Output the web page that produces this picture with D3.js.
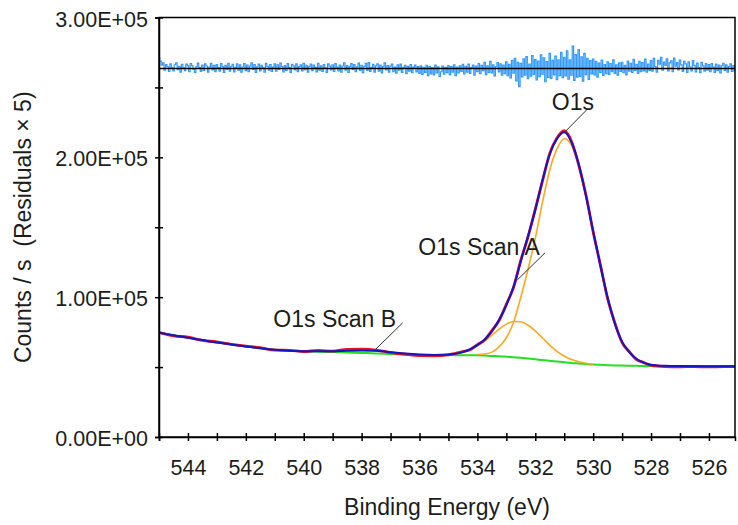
<!DOCTYPE html>
<meta charset="utf-8">
<html>
<head>
    <title>O1s fit</title>
    <script src="https://d3js.org/d3.v7.min.js"></script>
    <style>
        body { margin: 0; background: #fff; }
        svg { display: block; font-family: 'Liberation Sans', Arial, sans-serif; }
        .axis path, .axis line { stroke: #000; stroke-width: 1.5; }
        .axis text { font-size: 21.5px; fill: #1c1c1c; }
        .lbl { font-size: 23px; fill: #1c1c1c; white-space: pre; }
    </style>
</head>
<body>
<svg width="738" height="525"></svg>
<script>
    // spectrum grid (eV) and values (counts / s)
    const energy = [545, 544.5, 544, 543.5, 543, 542.5, 542, 541.5, 541, 540.5, 540, 539.5, 539, 538.5, 538, 537.5, 537, 536.5, 536, 535.5, 535,
        534.5, 534.25, 534, 533.75, 533.5, 533.25, 533, 532.75, 532.5, 532.25, 532, 531.75, 531.5, 531.25, 531, 530.75, 530.5, 530.25, 530,
        529.75, 529.5, 529.25, 529, 528.75, 528.5, 528.25, 528, 527.5, 527, 526.5, 526, 525.5, 525.1];

    const counts = [74900, 72400, 71400, 69100, 68000, 66200, 65000, 63900, 62100, 62000, 61100, 61900, 61400, 62700, 62800, 62200, 60400, 59200, 58200, 58100, 58800,
        61000, 62400, 66100, 69400, 76100, 83300, 94900, 107100, 126400, 143200, 162900, 183200, 202800, 213800, 219000, 211500, 194600, 173200, 146600,
        123100, 98900, 81600, 67500, 61000, 55400, 53300, 51300, 50400, 50200, 50400, 50100, 50300, 50300];

    const envelope = [74500, 72700, 71000, 69300, 67600, 66200, 64800, 63400, 62400, 61700, 61400, 61300, 61400, 61700, 61900, 61600, 60700, 59700, 59000, 58700, 59000,
        60700, 62800, 65700, 69800, 75500, 83800, 94300, 107600, 125800, 143800, 162300, 183800, 202200, 213300, 217900, 210900, 195200, 172600, 147200,
        122500, 99500, 81000, 68000, 60500, 55800, 53000, 51700, 50900, 50700, 50600, 50600, 50600, 50600];

    const background = [74500, 72700, 71000, 69300, 67600, 66200, 64800, 63400, 62400, 61700, 61300, 61000, 60700, 60400, 60100, 59800, 59400, 58900, 58700, 58600, 58600,
        58500, 58500, 58400, 58200, 58000, 57800, 57400, 57000, 56600, 56100, 55600, 55000, 54500, 54000, 53500, 53000, 52600, 52200, 51800,
        51600, 51400, 51200, 51100, 51000, 50900, 50800, 50800, 50700, 50700, 50600, 50600, 50600, 50600];

    // components (background included), each on its own energy span
    const o1sEnergy = [534, 533.75, 533.5, 533.25, 533, 532.75, 532.5, 532.25, 532, 531.75, 531.5, 531.25, 531, 530.75, 530.5, 530.25, 530,
        529.75, 529.5, 529.25, 529, 528.75, 528.5, 528.25, 528, 527.5];
    const o1sPeak = [59000, 59400, 60700, 64500, 71000, 82000, 100000, 120000, 142000, 168000, 191000, 206000, 213500, 208500, 194000, 172000, 147000,
        122500, 99500, 81000, 68000, 60500, 55800, 53000, 51700, 50900];

    const scanAEnergy = [534.5, 534.25, 534, 533.75, 533.5, 533.25, 533, 532.75, 532.5, 532.25, 532, 531.75, 531.5, 531.25, 531, 530.75, 530.5, 530.25, 530];
    const scanAPeak = [60600, 62500, 65100, 68600, 72800, 77100, 80700, 82600, 82400, 79900, 75900, 70800, 65700, 61300, 57900, 55400, 53800, 52800, 52000];

    const scanBEnergy = [540, 539.5, 539, 538.5, 538, 537.5, 537, 536.5, 536, 535.5];
    const scanBPeak = [61400, 61300, 61400, 61700, 61900, 61600, 60700, 59700, 59000, 58700];

    // residuals x5, plotted about an offset; one value per 0.05 eV from 545.0 down (one row per eV)
    const residOffset = 263600;
    const residStart = 545, residStep = 0.05;
    const residuals = [
        7800, 5200, 2400, 3900, -1300, 2800, 1100, -2200, 3300, 600, -1800, 2600, 3900, -900, 1500, -2700, 2900, 400, -1600, 3100,
        1800, -2400, 3500, 2000, -700, -2900, 1300, 3800, 600, -2100, 2400, -1400, 3200, 1700, -2600, 900, 3600, -1100, 2200, -2300,
        2700, 500, -2000, 3400, 1200, -2800, 2100, -600, 3700, -1900, 1400, 2900, -2500, 800, 3300, -1300, 2500, -2700, 1000, 3500,
        -1600, 2300, -2400, 1600, 3900, -800, 2700, -2900, 1100, 3000, -1700, 2200, 400, -2600, 3600, 1500, -1200, 2800, -2200, 900,
        3200, -1900, 2600, -700, 3800, 1300, -2500, 2000, -1500, 3400, 600, -2800, 2900, 1800, -1100, 3300, -2300, 1200, 2500, -1800,
        3600, -900, 2100, -2700, 1400, 3100, -1600, 2400, 700, -2500, 3700, -1300, 1900, -2100, 2800, 500, -2900, 3200, 1600, -1000,
        2600, -2200, 3500, 900, -1800, 2300, -2600, 1700, 4000, -1200, 2000, -2800, 1300, 3400, -700, 2700, -2400, 1100, 3800, -1500,
        2200, -3000, 1500, 3600, -1400, 4200, -2100, 800, 2900, -2600, 1800, 3300, -1900, 2400, -3200, 1200, 3900, -1100, 2000, -2700,
        1600, 3100, -2300, 1000, -3400, 2500, -1200, 3000, -2900, 600, 2200, -3800, 1400, -2000, 2700, -3100, 900, 2400, -2500, 1300,
        -3600, 1900, -4300, 800, -2800, 2100, -5100, 1200, -3900, 500, -4700, 2300, -3300, 1100, -5800, -2400, 1600, -4100, 700, -3000,
        2000, -4400, 1300, -2600, 2600, -5200, 900, -3200, 1800, -2100, 2900, -4000, 1500, -2700, 3100, -3500, 600, 2400, -4800, 1700,
        -2300, 3500, -3700, 2100, -1600, 4300, -4400, 1800, -2900, 5000, -3300, 2600, -5400, 1200, 4100, -2500, 3200, -4900, 2300, -3800,
        4600, -5200, 2900, -6800, 5800, -3400, 7100, -8900, 4400, -13000, 3600, -6100, 6900, -4800, 8400, -7400, 3100, -5600, 9200, -4300,
        6300, -8300, 5200, -5900, 9700, -4100, 7600, -9400, 4900, -6500, 10800, -7200, 5700, -4600, 8800, -8100, 6200, -5100, 11500, -6600,
        7900, -5300, 12600, -7700, 6100, -4900, 16000, -8600, 9900, -6200, 13400, -5800, 8300, -9100, 10800, -4400, 7200, -7900, 5600, -3900,
        6600, -4700, 5000, -6300, 3800, -2900, 5900, -5000, 2700, -3700, 4600, -4300, 3400, -2400, 6100, -3600, 2500, -4800, 3900, -2200,
        4400, -3100, 2200, -4600, 5300, -1900, 3700, -2800, 6400, -1400, 2900, -3500, 5000, -2300, 4100, -1700, 6600, -2600, 3000, -1500,
        5600, -2000, 7200, 1200, -2700, 5800, 3000, 7900, -1300, 4500, 2100, 6800, -1800, 3900, 5400, -2400, 7400, 1600, 4200, -1100,
        6000, 2500, -2100, 5100, 3300, -2800, 4700, 1000, -1700, 5500, 2200, -2500, 3800, 600, -3000, 4300, 1800, -2000, 3400, -1200,
        2800, -2300, 3500, 900, -2900, 3100, -1600, 2400, -3300, 1900, 3700, -1400, 2600, -2700, 1300, 3200, -2100, 2000, -1800, 2900];

    // axis ticks and labels
    const xDomain = [545, 525.1];
    const xTicks = [545, 544, 543, 542, 541, 540, 539, 538, 537, 536, 535, 534, 533, 532, 531, 530, 529, 528, 527, 526];
    const xTickLabels = {544: "544", 542: "542", 540: "540", 538: "538", 536: "536", 534: "534", 532: "532", 530: "530", 528: "528", 526: "526"};
    const yTicks = [0, 50000, 100000, 150000, 200000, 250000, 300000];
    const yTickLabels = {0: "0.00E+00", 100000: "1.00E+05", 200000: "2.00E+05", 300000: "3.00E+05"};

    // peak labels: text position and leader line, in data units
    const notes = [
        { text: "O1s", tx: 531.43, ty: 233900, x1: 530.17, y1: 235100, x2: 530.97, y2: 218300 },
        { text: "O1s Scan A", tx: 536.04, ty: 130200, x1: 531.66, y1: 131800, x2: 532.62, y2: 112300 },
        { text: "O1s Scan B", tx: 541.05, ty: 78900, x1: 536.58, y1: 81700, x2: 537.54, y2: 62200 }
    ];

    const svg = d3.select("svg");
    const width = +svg.attr("width");
    const height = +svg.attr("height");
    const margin = { top: 17.5, right: 3, bottom: 88, left: 159 };
    const innerWidth = width - margin.left - margin.right;
    const innerHeight = height - margin.top - margin.bottom;

    const x = d3.scaleLinear().domain(xDomain).range([0, innerWidth]);
    const y = d3.scaleLinear().domain([0, 300000]).range([innerHeight, 0]);

    const g = svg.append("g").attr("transform", `translate(${margin.left},${margin.top})`);

    g.append("defs").append("clipPath").attr("id", "clip")
        .append("rect").attr("width", innerWidth).attr("height", innerHeight);

    const plot = g.append("g").attr("clip-path", "url(#clip)");

    const line = d3.line()
        .x(d => x(d[0]))
        .y(d => y(d[1]))
        .curve(d3.curveMonotoneX);

    function series(es, vs) {
        return es.map((e, i) => [e, vs[i]]);
    }

    // residuals
    const residData = residuals.map((r, i) => [residStart - i * residStep, residOffset + r]);
    plot.append("path")
        .datum(residData)
        .attr("fill", "none")
        .attr("stroke", "#3399ff")
        .attr("stroke-width", 1.2)
        .attr("d", d3.line().x(d => x(d[0])).y(d => y(d[1])).curve(d3.curveStep));

    plot.append("line")
        .attr("x1", 0).attr("x2", innerWidth)
        .attr("y1", y(residOffset)).attr("y2", y(residOffset))
        .attr("stroke", "#000").attr("stroke-width", 1.5);

    // background
    plot.append("path")
        .datum(series(energy, background))
        .attr("fill", "none").attr("stroke", "#22e022").attr("stroke-width", 2)
        .attr("d", line);

    // components
    [[scanBEnergy, scanBPeak], [scanAEnergy, scanAPeak], [o1sEnergy, o1sPeak]].forEach(([es, vs]) => {
        plot.append("path")
            .datum(series(es, vs))
            .attr("fill", "none").attr("stroke", "#ffa820").attr("stroke-width", 1.6)
            .attr("d", line);
    });

    // data
    plot.append("path")
        .datum(series(energy, counts))
        .attr("fill", "none").attr("stroke", "#e8141e").attr("stroke-width", 2.8)
        .attr("d", line);

    // envelope
    plot.append("path")
        .datum(series(energy, envelope))
        .attr("fill", "none").attr("stroke", "#1414c8").attr("stroke-width", 2)
        .attr("d", line);

    // frame
    g.append("rect")
        .attr("width", innerWidth).attr("height", innerHeight)
        .attr("fill", "none").attr("stroke", "#000").attr("stroke-width", 1.5);

    // axes
    const xAxis = d3.axisBottom(x)
        .tickValues(xTicks)
        .tickSize(4)
        .tickPadding(19)
        .tickFormat(d => xTickLabels[d] || "");

    const gx = g.append("g")
        .attr("class", "axis")
        .attr("transform", `translate(0,${innerHeight})`)
        .call(xAxis);
    gx.selectAll(".tick line").attr("y1", -4);
    gx.selectAll(".tick text").filter(function () { return this.textContent === ""; }).remove();

    const yAxis = d3.axisLeft(y)
        .tickValues(yTicks)
        .tickSize(4)
        .tickPadding(7)
        .tickFormat(d => yTickLabels[d] || "");

    const gy = g.append("g")
        .attr("class", "axis")
        .call(yAxis);
    gy.selectAll(".tick line").attr("x1", 4);
    gy.selectAll(".tick text").attr("dy", "0.4em");
    gy.selectAll(".tick text").filter(function () { return this.textContent === ""; }).remove();

    // axis titles
    svg.append("text")
        .attr("class", "lbl")
        .attr("x", margin.left + x(535.05))
        .attr("y", 515)
        .attr("text-anchor", "middle")
        .text("Binding Energy (eV)");

    svg.append("text")
        .attr("class", "lbl")
        .attr("transform", `translate(31,${margin.top + y(150000)}) rotate(-90)`)
        .attr("text-anchor", "middle")
        .text("Counts / s  (Residuals \u00d7 5)");

    // peak labels
    notes.forEach(n => {
        g.append("line")
            .attr("x1", x(n.x1)).attr("y1", y(n.y1))
            .attr("x2", x(n.x2)).attr("y2", y(n.y2))
            .attr("stroke", "#333").attr("stroke-width", 1);
        g.append("text")
            .attr("class", "lbl")
            .attr("x", x(n.tx)).attr("y", y(n.ty))
            .text(n.text);
    });
</script>
</body>
</html>
